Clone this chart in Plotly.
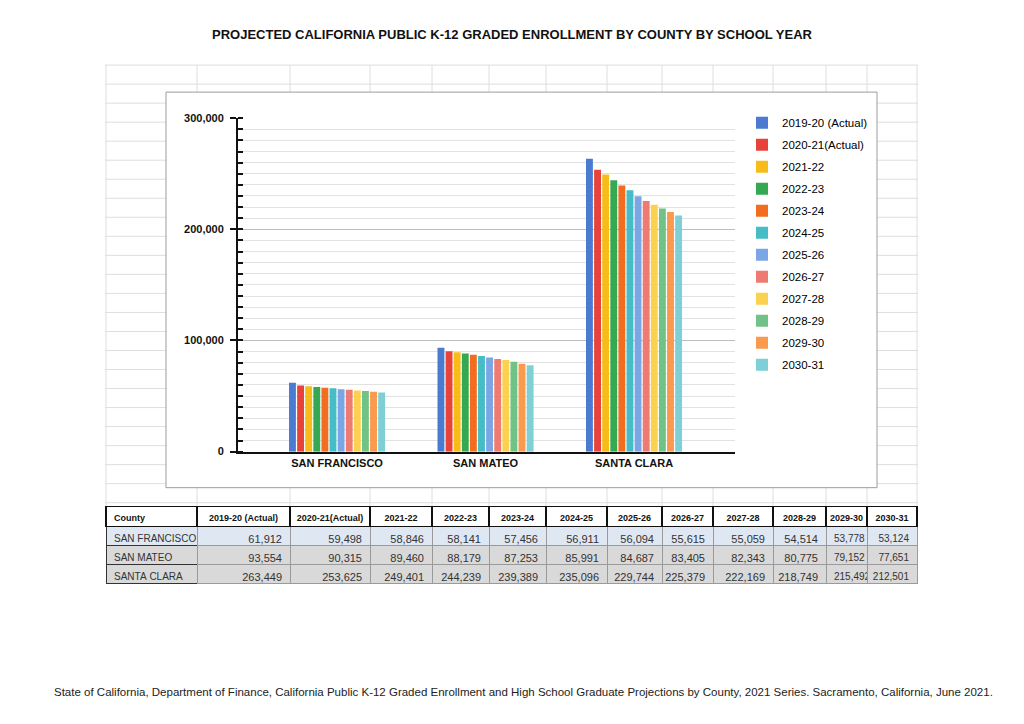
import plotly.graph_objects as go

W, H = 1024, 724

counties = ["SAN FRANCISCO", "SAN MATEO", "SANTA CLARA"]
years = ["2019-20 (Actual)", "2020-21(Actual)", "2021-22", "2022-23", "2023-24", "2024-25",
         "2025-26", "2026-27", "2027-28", "2028-29", "2029-30", "2030-31"]
san_francisco = [61912, 59498, 58846, 58141, 57456, 56911, 56094, 55615, 55059, 54514, 53778, 53124]
san_mateo = [93554, 90315, 89460, 88179, 87253, 85991, 84687, 83405, 82343, 80775, 79152, 77651]
santa_clara = [263449, 253625, 249401, 244239, 239389, 235096, 229744, 225379, 222169, 218749, 215492, 212501]
colors = ["#4a7bd0", "#e8433a", "#f7bc18", "#34a853", "#f36d21", "#46bdc6",
          "#7ba6e6", "#ee7b72", "#fbd250", "#71c287", "#f99a4f", "#7ed0d6"]

title = "PROJECTED CALIFORNIA PUBLIC K-12 GRADED ENROLLMENT BY COUNTY BY SCHOOL YEAR"
source = ("State of California, Department of Finance, California Public K-12 Graded Enrollment and "
          "High School Graduate Projections by County, 2021 Series. Sacramento, California, June 2021.")

FONT = "Liberation Sans, Arial, Helvetica, sans-serif"

# page-pixel -> paper fraction helpers (rendered page is ~711px tall, offset 6px)
def px(x):
    return x / W

def py(y):
    return 1 - (y - 6) / 711

fig = go.Figure()
rows = [san_francisco, san_mateo, santa_clara]
for i, yr in enumerate(years):
    fig.add_trace(go.Bar(
        x=counties, y=[r[i] for r in rows], name=yr,
        marker=dict(color=colors[i], line=dict(width=0)),
        legendgroup=yr, hovertemplate="%{x}<br>" + yr + ": %{y:,}<extra></extra>",
    ))

# ---- table ----
col_widths = [91, 93, 80, 62, 57, 57, 61, 55, 51, 60, 53, 41, 50]
tbl_left, tbl_top = 106, 506
header = ["County"] + years
cols = [[c.replace(" ", "\u00a0") for c in counties]] + \
       [[f"{r[i]:,}" for r in rows] for i in range(len(years))]
row_fill = ["#dfe7f3", "#d9d9d9", "#d9d9d9"]
cell_align = ["left"] + ["right"] * len(years)
cell_align[11] = "left"
cell_sizes = [10] + [11] * len(years)
cell_sizes[11] = 10
cell_sizes[12] = 10
line_cols = [["#333333"] * 3] + [["#9a9a9a"] * 3] * len(years)
fig.add_trace(go.Table(
    domain=dict(x=[px(tbl_left), px(tbl_left + sum(col_widths))], y=[py(tbl_top + 84), py(tbl_top)]),
    columnwidth=col_widths,
    header=dict(values=[h.replace(" ", "\u00a0") for h in header], height=20,
                align=["left"] + ["center"] * len(years),
                fill=dict(color="white"), line=dict(color="#111111", width=1.5),
                font=dict(family=FONT, size=9, color="#111111", weight="bold")),
    cells=dict(values=cols, height=19,
               align=cell_align,
               fill=dict(color=[row_fill] * len(header)),
               line=dict(color=line_cols, width=1),
               font=dict(family=FONT, size=cell_sizes, color="#333333")),
))

# ---- background spreadsheet grid + chart box ----
shapes = []
xs = [tbl_left]
for w in col_widths:
    xs.append(xs[-1] + w)
for x in xs:
    shapes.append(dict(type="line", xref="paper", yref="paper", x0=px(x), x1=px(x),
                       y0=py(65), y1=py(506), line=dict(color="#dedede", width=1), layer="below"))
y = 65
while y < 506:
    shapes.append(dict(type="line", xref="paper", yref="paper", x0=px(105), x1=px(918),
                       y0=py(y), y1=py(y), line=dict(color="#dedede", width=1), layer="below"))
    y += 19
shapes.append(dict(type="rect", xref="paper", yref="paper", x0=px(166), x1=px(877),
                   y0=py(487), y1=py(92), fillcolor="white",
                   line=dict(color="#9c9c9c", width=1), layer="below"))

annotations = [
    dict(text="<b>%s</b>" % title, x=0.5, y=py(34), xref="paper", yref="paper",
         showarrow=False, font=dict(family=FONT, size=13, color="#111111"), xanchor="center", yanchor="middle"),
    dict(text=source, x=px(523), y=py(691), xref="paper", yref="paper",
         showarrow=False, font=dict(family=FONT, size=11.5, color="#222222"), xanchor="center", yanchor="middle"),
]

fig.update_layout(
    width=W, height=H, autosize=False,
    margin=dict(l=0, r=0, t=0, b=0),
    paper_bgcolor="white", plot_bgcolor="rgba(0,0,0,0)",
    barmode="group", bargap=0.345, bargroupgap=0.15,
    shapes=shapes, annotations=annotations,
    showlegend=True,
    legend=dict(x=px(742), y=py(108), xanchor="left", yanchor="top",
                font=dict(family=FONT, size=11.5, color="#000000"),
                tracegroupgap=3, bgcolor="rgba(0,0,0,0)", itemwidth=30),
    xaxis=dict(domain=[px(238), px(735)], range=[-0.667, 2.68],
               showline=True, linecolor="#111111", linewidth=1.5, ticks="",
               tickfont=dict(family=FONT, size=11, color="#111111", weight="bold"),
               showgrid=False, zeroline=False, fixedrange=True),
    yaxis=dict(domain=[py(451), py(118)], range=[0, 300000], dtick=100000,
               tickformat=",", showline=True, linecolor="#111111", linewidth=2,
               ticks="outside", ticklen=6, tickwidth=1.5, tickcolor="#111111",
               ticklabelstandoff=4,
               tickfont=dict(family=FONT, size=11, color="#111111", weight="bold"),
               showgrid=True, gridcolor="#bdbdbd", gridwidth=1, zeroline=False,
               minor=dict(dtick=10000, ticks="inside", ticklen=5, tickcolor="#111111",
                          tickwidth=1.5, showgrid=True, gridcolor="#e2e2e2", gridwidth=1),
               fixedrange=True),
)

fig.write_html("out.html", config={"displayModeBar": False},
               post_script="document.body.style.margin='0';document.body.style.overflow='hidden';")
